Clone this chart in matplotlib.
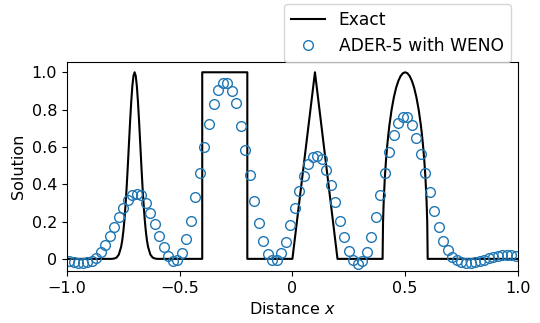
import numpy as np
import matplotlib
matplotlib.use("Agg")
import matplotlib.pyplot as plt

# exact profile (gaussian, square, triangle, ellipse)
exact_x = [-1.0, -0.8, -0.79, -0.78, -0.77, -0.76, -0.755, -0.75, -0.745, -0.74, -0.735,
           -0.73, -0.725, -0.72, -0.715, -0.71, -0.705, -0.70, -0.695, -0.69, -0.685,
           -0.68, -0.675, -0.67, -0.665, -0.66, -0.655, -0.65, -0.645, -0.64, -0.63,
           -0.62, -0.61, -0.6,
           -0.4, -0.4, -0.2, -0.2,
           0.0, 0.1, 0.2,
           0.4, 0.4, 0.402, 0.405, 0.41, 0.415, 0.42, 0.425, 0.43, 0.44, 0.45, 0.46,
           0.47, 0.48, 0.49, 0.5, 0.51, 0.52, 0.53, 0.54, 0.55, 0.56, 0.57, 0.575,
           0.58, 0.585, 0.59, 0.595, 0.598, 0.6, 0.6, 1.0]
exact_y = [0.0, 0.0, 0.002, 0.007, 0.023, 0.063, 0.097, 0.146, 0.210, 0.292, 0.389,
           0.500, 0.618, 0.735, 0.841, 0.926, 0.981, 1.0, 0.981, 0.926, 0.841,
           0.735, 0.618, 0.500, 0.389, 0.292, 0.210, 0.146, 0.097, 0.063, 0.023,
           0.007, 0.002, 0.0,
           0.0, 1.0, 1.0, 0.0,
           0.0, 1.0, 0.0,
           0.0, 0.0, 0.199, 0.312, 0.436, 0.527, 0.6, 0.661, 0.714, 0.8, 0.866, 0.917,
           0.954, 0.980, 0.995, 1.0, 0.995, 0.980, 0.954, 0.917, 0.866, 0.8, 0.714, 0.661,
           0.6, 0.527, 0.436, 0.312, 0.199, 0.0, 0.0, 0.0]

# ADER-5 / WENO cell values (100 cells on [-1, 1])
num_x = np.linspace(-0.99, 0.99, 100)
num_y = [-0.014, -0.019, -0.022, -0.022, -0.018, -0.010, 0.005, 0.035, 0.075, 0.120,
         0.170, 0.225, 0.275, 0.315, 0.340, 0.350, 0.340, 0.300, 0.248, 0.188,
         0.124, 0.064, 0.018, -0.010, -0.004, 0.034, 0.105, 0.205, 0.330, 0.462,
         0.597, 0.725, 0.830, 0.905, 0.943, 0.943, 0.900, 0.835, 0.713, 0.585,
         0.447, 0.312, 0.192, 0.094, 0.028, -0.005, -0.006, 0.034, 0.093, 0.180,
         0.275, 0.364, 0.446, 0.508, 0.547, 0.551, 0.533, 0.476, 0.396, 0.307,
         0.205, 0.119, 0.043, -0.006, -0.028, -0.012, 0.039, 0.119, 0.226, 0.342,
         0.462, 0.574, 0.663, 0.729, 0.761, 0.758, 0.720, 0.649, 0.560, 0.462,
         0.357, 0.258, 0.173, 0.096, 0.048, 0.012, -0.006, -0.015, -0.020, -0.020,
         -0.017, -0.011, -0.004, 0.004, 0.012, 0.018, 0.022, 0.022, 0.019, 0.013]

xticks = [-1.0, -0.5, 0.0, 0.5, 1.0]
xticklabels = ["\u22121.0", "\u22120.5", "0", "0.5", "1.0"]
yticks = [0.0, 0.2, 0.4, 0.6, 0.8, 1.0]
yticklabels = ["0", "0.2", "0.4", "0.6", "0.8", "1.0"]

plt.rcParams['font.size'] = 11.5

fig = plt.figure(figsize=(5.4, 3.23), dpi=100)
ax = fig.add_axes([0.124, 0.161, 0.835, 0.647])

ax.plot(exact_x, exact_y, color='black', lw=1.5, label='Exact')
ax.plot(num_x, num_y, 'o', mfc='none', mec='#1f77b4', mew=1.0, ms=7,
        label='ADER-5 with WENO')

ax.set_xlim(-1.0, 1.0)
ax.set_ylim(-0.065, 1.055)
ax.set_xticks(xticks)
ax.set_xticklabels(xticklabels)
ax.set_yticks(yticks)
ax.set_yticklabels(yticklabels)
ax.set_xlabel('Distance $x$')
ax.set_ylabel('Solution')

ax.legend(loc='lower right', bbox_to_anchor=(0.984, 1.0), borderaxespad=0.0,
          fontsize=12.3)

fig.savefig('out.png', dpi=100)
